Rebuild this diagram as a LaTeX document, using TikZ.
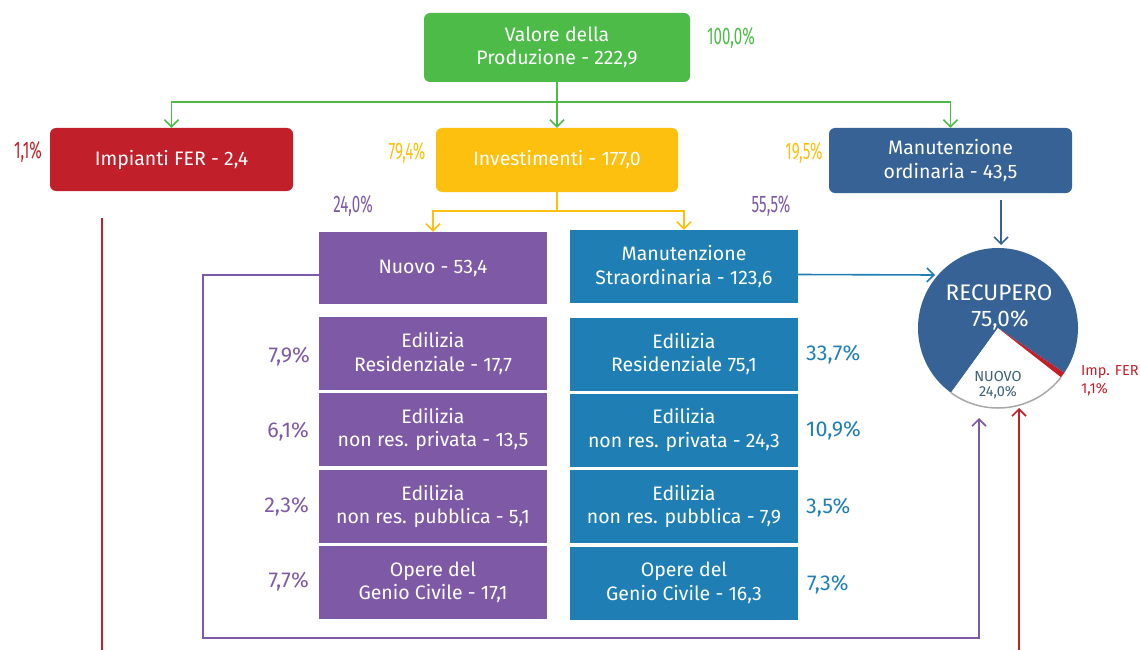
\documentclass[tikz,border=0pt]{standalone}
\usepackage{fontspec}
\usepackage{graphicx}
\setmainfont{Fira Sans}
\usetikzlibrary{arrows.meta}
\definecolor{cgreen}{HTML}{4DBB48}
\definecolor{cred}{HTML}{C1202A}
\definecolor{cyellow}{HTML}{FDC00F}
\definecolor{cdblue}{HTML}{376296}
\definecolor{cpurple}{HTML}{7E5AA6}
\definecolor{cmblue}{HTML}{1F7FB5}
\definecolor{cslate}{HTML}{3D6172}
\definecolor{cgray}{HTML}{A8A8A8}
\begin{document}
\begin{tikzpicture}[x=1pt,y=-1pt,
  box/.style={text=white, align=center, inner sep=0pt, font=\fontsize{19.5}{23.5}\selectfont},
  rbox/.style={box, rounded corners=6pt},
  pct/.style={inner sep=0pt, font=\fontsize{21.5}{24}\selectfont},
  cpct/.style={inner sep=0pt, font=\fontsize{24}{26}\selectfont},
  small/.style={inner sep=0pt, align=center, font=\fontsize{14.5}{16}\selectfont},
  arr/.style={-{Straight Barb[length=7pt,width=14pt]}, line width=1.6pt},
  ln/.style={line width=1.6pt}]
\useasboundingbox (0,0) rectangle (1140,650);

% top boxes
\node[rbox, fill=cgreen, minimum width=266pt, minimum height=69pt] (val) at (557,47.5) {Valore della\\Produzione - 222,9};
\node[rbox, fill=cred, minimum width=243pt, minimum height=63pt] (imp) at (171.5,159.5) {Impianti FER - 2,4};
\node[rbox, fill=cyellow, minimum width=242pt, minimum height=64pt] (inv) at (557,160) {Investimenti - 177,0};
\node[rbox, fill=cdblue, minimum width=243pt, minimum height=65pt] (mo) at (950.5,160.5) {Manutenzione\\ordinaria - 43,5};

% second level
\node[box, fill=cpurple, minimum width=228pt, minimum height=72pt] (nu) at (433,268) {Nuovo - 53,4};
\node[box, fill=cmblue, minimum width=228pt, minimum height=73pt] (ms) at (684,266.5) {Manutenzione\\Straordinaria - 123,6};

% purple rows
\node[box, fill=cpurple, minimum width=228pt, minimum height=73pt] (p1) at (433,353.5) {Edilizia\\Residenziale - 17,7};
\node[box, fill=cpurple, minimum width=228pt, minimum height=73pt] (p2) at (433,429.5) {Edilizia\\non res. privata - 13,5};
\node[box, fill=cpurple, minimum width=228pt, minimum height=73pt] (p3) at (433,506.5) {Edilizia\\non res. pubblica - 5,1};
\node[box, fill=cpurple, minimum width=228pt, minimum height=73pt] (p4) at (433,582.5) {Opere del\\Genio Civile - 17,1};

% blue rows
\node[box, fill=cmblue, minimum width=228pt, minimum height=73pt] (b1) at (684,354) {Edilizia\\Residenziale 75,1};
\node[box, fill=cmblue, minimum width=228pt, minimum height=73pt] (b2) at (684,430) {Edilizia\\non res. privata - 24,3};
\node[box, fill=cmblue, minimum width=228pt, minimum height=73pt] (b3) at (684,506.5) {Edilizia\\non res. pubblica - 7,9};
\node[box, fill=cmblue, minimum width=228pt, minimum height=73pt] (b4) at (684,583) {Opere del\\Genio Civile - 16,3};

% condensed percentages
\node[cpct, text=cgreen] (t1) at (731,38) {\scalebox{0.63}[1]{100,0\%}};
\node[cpct, text=cred] (t2) at (28,152) {\scalebox{0.63}[1]{1,1\%}};
\node[cpct, text=cyellow] (t3) at (407,153) {\scalebox{0.63}[1]{79,4\%}};
\node[cpct, text=cyellow] (t4) at (804,153) {\scalebox{0.63}[1]{19,5\%}};
\node[cpct, text=cpurple] (t5) at (353,206) {\scalebox{0.63}[1]{24,0\%}};
\node[cpct, text=cpurple] (t6) at (771,206) {\scalebox{0.63}[1]{55,5\%}};

% row percentages
\node[pct, text=cpurple, anchor=east] (q1) at (310,357) {7,9\%};
\node[pct, text=cpurple, anchor=east] (q2) at (309,432) {6,1\%};
\node[pct, text=cpurple, anchor=east] (q3) at (309,507) {2,3\%};
\node[pct, text=cpurple, anchor=east] (q4) at (309,582) {7,7\%};
\node[pct, text=cmblue, anchor=west] (r1) at (806,355) {33,7\%};
\node[pct, text=cmblue, anchor=west] (r2) at (806,431) {10,9\%};
\node[pct, text=cmblue, anchor=west] (r3) at (806,508) {3,5\%};
\node[pct, text=cmblue, anchor=west] (r4) at (807,585) {7,3\%};

% pie
\coordinate (pc) at (998,328);
\fill[cdblue] (pc) -- ++(326:80pt) arc[start angle=326, end angle=594, radius=80pt] -- cycle;
\fill[white] (pc) -- ++(234:80pt) arc[start angle=234, end angle=322, radius=80pt] -- cycle;
\draw[cgray, line width=1.5pt] (pc) ++(234:80pt) arc[start angle=234, end angle=322, radius=80pt];
\fill[cred] (pc) -- ++(322:80pt) arc[start angle=322, end angle=326, radius=80pt] -- cycle;
\node[inner sep=0pt, text=white, font=\fontsize{22.5}{26}\selectfont] (rec) at (999,293) {RECUPERO};
\node[inner sep=0pt, text=white, font=\fontsize{22.5}{26}\selectfont] (recp) at (1000,320) {75,0\%};
\node[small, text=cslate] (nuo) at (998,377) {NUOVO};
\node[small, text=cslate] (nuop) at (998,393) {24,0\%};
\node[small, text=cred, anchor=west] (fer) at (1081,372) {Imp. FER};
\node[small, text=cred, anchor=west] (ferp) at (1081,390) {1,1\%};

% connector coordinates
\coordinate (piel) at (935,275);
\coordinate (pieb) at (979,418);
\coordinate (piebr) at (1019,408);
\coordinate (piet) at (1001,245);
\coordinate (mob) at (1001,200);
\coordinate (rl1) at (102,218);
\coordinate (rl2) at (102,650);
\coordinate (rr1) at (1019,650);

% green
\draw[arr, cgreen] (val.south) -- ++(0,20) -| (imp.north);
\draw[arr, cgreen] (val.south) -- ++(0,20) -| (mo.north);
\draw[arr, cgreen] (val.south) -- (inv.north);
% yellow
\draw[arr, cyellow] (inv.south) -- ++(0,19) -| (nu.north);
\draw[arr, cyellow] (inv.south) -- ++(0,19) -| (ms.north);
% blue
\draw[arr, cmblue] ([yshift=-8pt]ms.east) -- (piel);
\draw[arr, cdblue] (mob) -- (piet);
% purple
\draw[arr, cpurple] ([yshift=-7pt]nu.west) -| (203,638) -| (pieb);
% red
\draw[ln, cred] (rl1) -- (rl2);
\draw[arr, cred] (rr1) -- (piebr);
\end{tikzpicture}
\end{document}
